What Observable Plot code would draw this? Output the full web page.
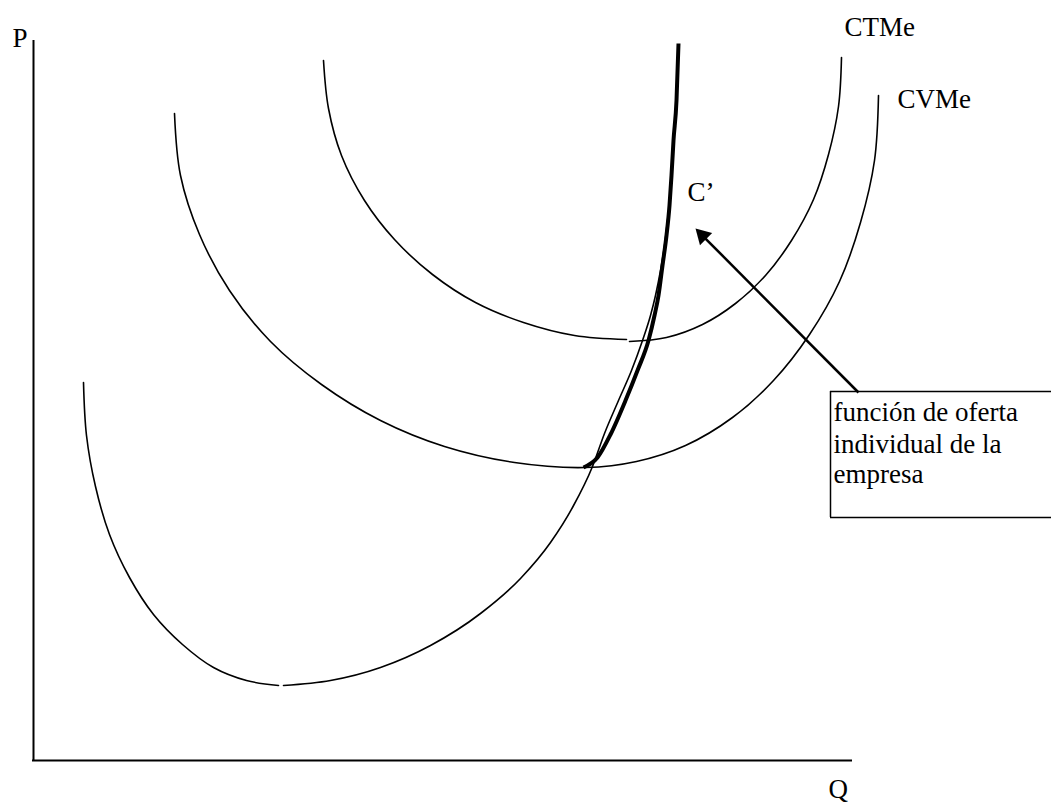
<!DOCTYPE html>
<html>
<head>
<meta charset="utf-8">
<script src="https://cdn.jsdelivr.net/npm/d3@7"></script>
<script src="https://cdn.jsdelivr.net/npm/@observablehq/plot@0.6"></script>
<style>
  html, body { margin: 0; padding: 0; background: #fff; overflow: hidden; }
  #chart { width: 1051px; height: 805px; overflow: hidden; }
</style>
</head>
<body>
<div id="chart"></div>
<script>
// Marginal cost C' (left and right branches of the lowest U)
const cmgLeftQ  = [50, 53, 62, 76, 96, 120, 149, 180, 213, 245];
const cmgLeftP  = [378, 325, 274, 226, 183, 146, 116, 93, 80, 75];
const cmgRightQ = [250, 297, 347, 397, 447, 487, 517, 539, 559, 571, 585, 598, 609, 617, 622, 627, 631, 634, 637];
const cmgRightP = [75, 80, 93, 115, 147, 182, 218, 253, 294, 327, 360, 390, 420, 445, 465, 490, 515, 540, 565];

// CVMe (average variable cost)
const cvmeQ = [141, 147, 166, 196, 237, 288, 347, 411, 481, 552, 603, 652, 699, 740, 776, 806, 827, 841, 845];
const cvmeP = [647, 585, 526, 470, 419, 376, 340, 314, 298, 293, 299, 315, 343, 380, 426, 479, 538, 600, 665];

// CTMe (average total cost) in two branches
const ctmeLeftQ  = [290, 295, 308, 331, 361, 399, 442, 490, 541, 593];
const ctmeLeftP  = [700, 652, 605, 560, 521, 486, 458, 438, 425, 421];
const ctmeRightQ = [596, 633, 669, 702, 732, 758, 780, 795, 805, 808];
const ctmeRightP = [419, 423, 436, 457, 485, 520, 561, 606, 654, 703];

// Individual supply function of the firm (thick)
const supplyQ = [550, 564, 577, 592, 604, 615, 621, 625, 629, 633, 636, 638, 640, 643, 645];
const supplyP = [293, 303, 326, 360, 390, 420, 445, 465, 495, 525, 555, 585, 620, 660, 717];

// Axes extent
const axisQmax = 819;
const axisPmax = 720;

// Labels
const labelText = ["P", "CTMe", "CVMe", "C\u2019", "Q"];
const labelQ    = [-21, 811, 864, 654, 795];
const labelP    = [714, 725, 653, 560, -37];

// Annotation box (open on the right, cut by the page edge)
const boxLines = ["función de oferta", "individual de la", "empresa"];
const boxLineQ = [800, 800, 800];
const boxLineP = [340, 308, 278];
const boxQ = [797, 1100];
const boxP = [243, 369];

// Arrow (tail -> tip)
const arrowTail = [825, 368];
const arrowTip  = [662, 532];

const zip = (qs, ps) => qs.map((q, i) => ({Q: q, P: ps[i]}));

// arrow head placement (triangle centroid set back from the tip)
const dq = arrowTip[0] - arrowTail[0], dp = arrowTip[1] - arrowTail[1];
const len = Math.hypot(dq, dp);
const headCenter = {Q: arrowTip[0] - dq / len * 10, P: arrowTip[1] - dp / len * 10};
const linkEnd = {Q: arrowTip[0] - dq / len * 12, P: arrowTip[1] - dp / len * 12};

const font = "Liberation Serif, Times New Roman, serif";
const thin = {x: "Q", y: "P", stroke: "#000", strokeWidth: 1.6};

const chart = Plot.plot({
  width: 1051,
  height: 805,
  margin: 0,
  style: {background: "#fff", color: "#000", fontFamily: font},
  x: {domain: [-33, 1018], axis: null},
  y: {domain: [-45, 760], axis: null},
  marks: [
    // axes
    Plot.ruleX([0], {y1: -1, y2: axisPmax, stroke: "#000", strokeWidth: 2}),
    Plot.ruleY([0], {x1: -1, x2: axisQmax, stroke: "#000", strokeWidth: 2}),
    // curves
    Plot.line(zip(cmgLeftQ, cmgLeftP), {...thin, curve: "catmull-rom"}),
    Plot.line(zip(cmgRightQ, cmgRightP), {...thin, curve: "monotone-x"}),
    Plot.line(zip(cvmeQ, cvmeP), {...thin, curve: "catmull-rom"}),
    Plot.line(zip(ctmeLeftQ, ctmeLeftP), {...thin, curve: "catmull-rom"}),
    Plot.line(zip(ctmeRightQ, ctmeRightP), {...thin, curve: "catmull-rom"}),
    Plot.line(zip(supplyQ, supplyP), {x: "Q", y: "P", curve: "monotone-x", stroke: "#000", strokeWidth: 4, strokeLinecap: "butt"}),
    // annotation box: top, bottom and left edges
    Plot.ruleY(boxP, {x1: boxQ[0], x2: boxQ[1], stroke: "#000", strokeWidth: 1.5}),
    Plot.ruleX([boxQ[0]], {y1: boxP[0], y2: boxP[1], stroke: "#000", strokeWidth: 1.5}),
    Plot.text(boxLines, {x: (d, i) => boxLineQ[i], y: (d, i) => boxLineP[i], text: d => d, textAnchor: "start", lineAnchor: "bottom", fontSize: 27, fontFamily: font, fill: "#000"}),
    // arrow
    Plot.link([{x1: arrowTail[0], y1: arrowTail[1], x2: linkEnd.Q, y2: linkEnd.P}], {x1: "x1", y1: "y1", x2: "x2", y2: "y2", stroke: "#000", strokeWidth: 2.5}),
    Plot.dot([headCenter], {x: "Q", y: "P", symbol: "triangle", r: 6.4, fill: "#000", stroke: "none", rotate: -45}),
    // labels
    Plot.text(labelText, {x: (d, i) => labelQ[i], y: (d, i) => labelP[i], text: d => d, textAnchor: "start", lineAnchor: "bottom", fontSize: 27, fontFamily: font, fill: "#000"})
  ]
});

document.getElementById("chart").appendChild(chart);
</script>
</body>
</html>
